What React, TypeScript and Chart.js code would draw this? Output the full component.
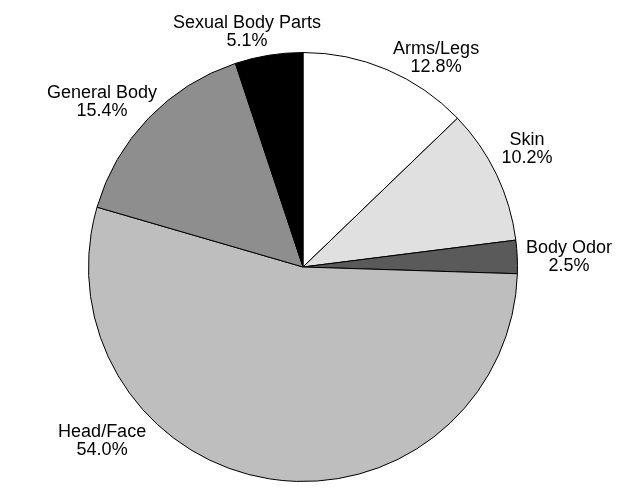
import React, { useEffect, useRef } from "react";
import { Chart, registerables } from "chart.js";

Chart.register(...registerables);

const categories = ["Arms/Legs", "Skin", "Body Odor", "Head/Face", "General Body", "Sexual Body Parts"];
const percentValues = [12.8, 10.2, 2.5, 54.0, 15.4, 5.1];
const percentLabels = ["12.8%", "10.2%", "2.5%", "54.0%", "15.4%", "5.1%"];
const sliceColors = ["#ffffff", "#e0e0e0", "#5a5a5a", "#bebebe", "#8e8e8e", "#000000"];

// label placement: angle (deg, clockwise from 12 o'clock) and distance in pie radii
const labelAngles = [32.5, 62.2, 87.8, 229.1, 309.4, 346.6];
const labelDistances = [1.155, 1.18, 1.241, 1.239, 1.213, 1.127];

const FONT = '18px "Liberation Sans", Arial, Helvetica, sans-serif';

const labelPlugin = {
  id: "outsideLabels",
  afterDatasetsDraw(chart: any) {
    const meta = chart.getDatasetMeta(0);
    const ctx = chart.ctx;
    ctx.save();
    ctx.font = FONT;
    ctx.fillStyle = "#000";
    ctx.textAlign = "center";
    ctx.textBaseline = "middle";
    meta.data.forEach((arc: any, i: number) => {
      const { x, y, outerRadius } = arc.getProps(["x", "y", "outerRadius"], true);
      const a = (labelAngles[i] * Math.PI) / 180;
      const d = labelDistances[i] * outerRadius;
      const cx = x + Math.sin(a) * d;
      const cy = y - Math.cos(a) * d;
      ctx.fillText(categories[i], cx, cy - 9);
      ctx.fillText(percentLabels[i], cx, cy + 9);
    });
    ctx.restore();
  },
};

export default function App() {
  const canvasRef = useRef<HTMLCanvasElement | null>(null);

  useEffect(() => {
    if (!canvasRef.current) return;
    const chart = new Chart(canvasRef.current, {
      type: "pie",
      data: {
        labels: categories,
        datasets: [
          {
            data: percentValues,
            backgroundColor: sliceColors,
            borderColor: "#000000",
            borderWidth: 1,
          },
        ],
      },
      options: {
        animation: false,
        responsive: false,
        maintainAspectRatio: false,
        layout: { padding: { left: 88, top: 52, right: 115, bottom: 14 } },
        plugins: {
          legend: { display: false },
          tooltip: { enabled: false },
        },
      },
      plugins: [labelPlugin],
    });
    return () => chart.destroy();
  }, []);

  return (
    <div style={{ position: "fixed", left: 0, top: 0, width: 633, height: 496, background: "#fff" }}>
      <canvas ref={canvasRef} width={633} height={496} style={{ width: 633, height: 496, display: "block" }} />
    </div>
  );
}
